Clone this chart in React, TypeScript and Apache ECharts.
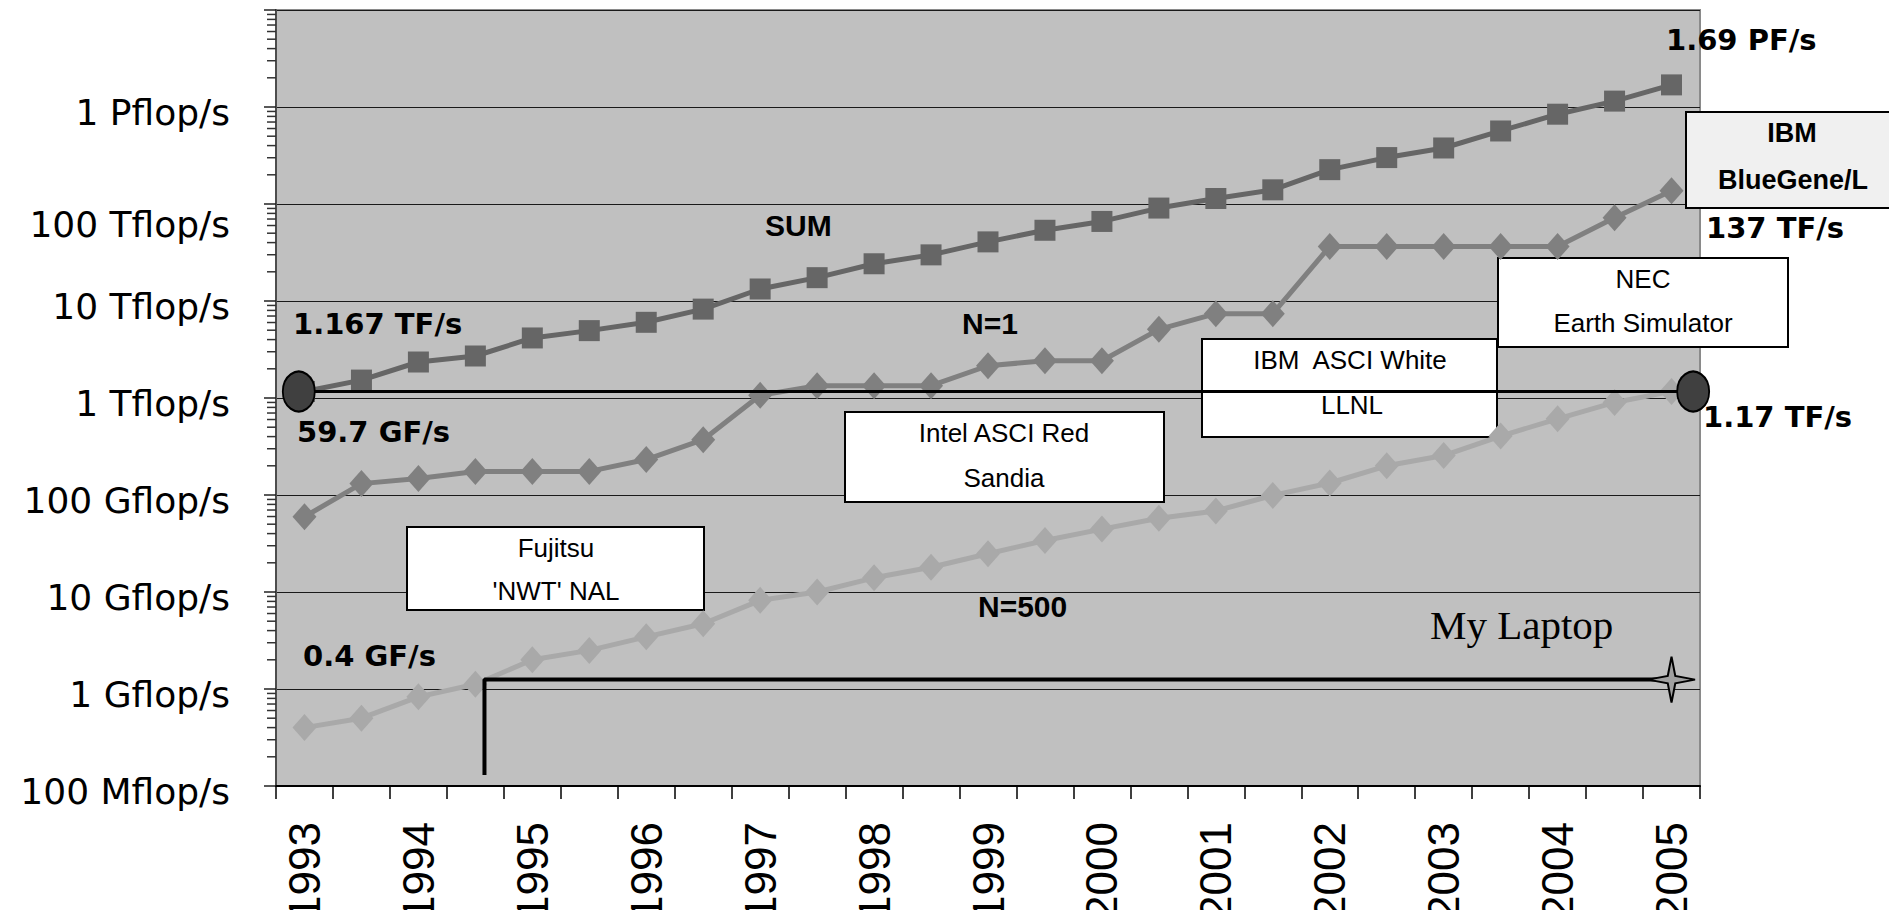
import React, { useEffect, useRef } from 'react';
import * as echarts from 'echarts';

// Categories: the two TOP500 lists per year (June, November), 1993-06 .. 2005-06
const categories = [
  '1993-06', '1993-11', '1994-06', '1994-11', '1995-06', '1995-11', '1996-06', '1996-11',
  '1997-06', '1997-11', '1998-06', '1998-11', '1999-06', '1999-11', '2000-06', '2000-11',
  '2001-06', '2001-11', '2002-06', '2002-11', '2003-06', '2003-11', '2004-06', '2004-11',
  '2005-06',
];

// Values in Gflop/s
const sumValues = [
  1167, 1530, 2350, 2710, 4160, 4950, 6030, 8250, 13300, 17400, 24200, 29900, 40700, 53600,
  66100, 90800, 114000, 140000, 226000, 301000, 378000, 566000, 843000, 1150000, 1690000,
];
const n1Values = [
  59.7, 131, 148, 175, 175, 175, 232, 372, 1065, 1338, 1338, 1338, 2150, 2420, 2420, 5100,
  7400, 7400, 36500, 36500, 36500, 36500, 36500, 72000, 136800,
];
const n500Values = [
  0.4, 0.5, 0.83, 1.12, 2.0, 2.5, 3.45, 4.7, 8.2, 10, 14, 18, 24.8, 34, 44.5, 57.5, 68.5, 99,
  133, 200, 255, 405, 610, 900, 1170,
];

// y tick labels, indexed by log10(value in Gflop/s) + 1
const yTickLabels = [
  '100 Mflop/s', '1 Gflop/s', '10 Gflop/s', '100 Gflop/s', '1 Tflop/s', '10 Tflop/s',
  '100 Tflop/s', '1 Pflop/s', '',
];
const minorDecades = [0.1, 1, 10, 100, 1000, 10000, 100000, 1000000];
const minorSteps = [2, 3, 4, 5, 6, 7, 8, 9];

// Annotation lines on a continuous x scale (category index units)
const tfLine = [[-0.1, 1167], [24.38, 1167]];
const laptopPath = [[3.16, 0.13], [3.16, 1.25], [24, 1.25]];

const SANS = 'DejaVu Sans';
const LIB = '"Liberation Sans", Arial, sans-serif';

const STAR = 'path://M0,-10 L1.6,-1.6 L10,0 L1.6,1.6 L0,10 L-1.6,1.6 L-10,0 L-1.6,-1.6 Z';

function txt(text: string, x: number, y: number, font: string, align = 'left', extra: any = {}) {
  return {
    type: 'text',
    x,
    y,
    z: 100,
    silent: true,
    style: {
      text,
      font,
      fill: '#000',
      textAlign: align,
      align,
      textVerticalAlign: 'middle',
      verticalAlign: 'middle',
      ...extra,
    },
  };
}

function box(x: number, y: number, w: number, h: number, fill = '#ffffff') {
  return {
    type: 'rect',
    z: 1,
    silent: true,
    shape: { x, y, width: w, height: h },
    style: { fill, stroke: '#000', lineWidth: 2 },
  };
}

export default function App() {
  const ref = useRef<HTMLDivElement>(null);

  useEffect(() => {
    if (!ref.current) return;
    const chart = echarts.init(ref.current, null, { renderer: 'svg' });

    const minorTickValues: number[][] = [];
    minorDecades.forEach((d) => minorSteps.forEach((k) => minorTickValues.push([-0.5, d * k])));

    const boxFont = `26px ${LIB}`;
    const boldFont = `bold 29px ${SANS}`;
    const nameFont = `bold 30px ${LIB}`;

    chart.setOption({
      animation: false,
      grid: {
        left: 276,
        right: 189,
        top: 10,
        bottom: 124,
        containLabel: false,
        outerBoundsMode: 'none',
        show: true,
        backgroundColor: '#c0c0c0',
        borderColor: '#8a8a8a',
        borderWidth: 2,
      },
      xAxis: [
        {
          type: 'category',
          data: categories,
          boundaryGap: true,
          axisLine: { show: true, lineStyle: { color: '#000', width: 2 } },
          axisTick: { show: true, interval: 0, length: 13, lineStyle: { color: '#000', width: 1.5 } },
          axisLabel: {
            interval: 1,
            rotate: 90,
            margin: 36,
            fontSize: 44,
            fontFamily: 'Liberation Sans',
            color: '#000',
            formatter: (v: string) => v.slice(0, 4),
          },
          splitLine: { show: false },
        },
        { type: 'value', min: -0.5, max: 24.5, show: false },
      ],
      yAxis: {
        type: 'log',
        logBase: 10,
        min: 0.1,
        max: 1e7,
        axisLine: { show: true, onZero: false, lineStyle: { color: '#4d4d4d', width: 2 } },
        axisTick: { show: true, length: 12, lineStyle: { color: '#222', width: 1.5 } },
        splitLine: { show: true, lineStyle: { color: '#1a1a1a', width: 1 } },
        axisLabel: {
          margin: 46,
          color: '#000',
          formatter: (v: number) => {
            const i = Math.round(Math.log10(v)) + 1;
            const t = yTickLabels[i] || '';
            if (!t) return '';
            return i === 6 ? `{d|${t}}` : `{n|${t}}`;
          },
          rich: {
            n: { fontSize: 36, fontFamily: SANS, color: '#000', padding: [10, 0, 0, 0] },
            d: { fontSize: 36, fontFamily: SANS, color: '#000', padding: [40, 0, 0, 0] },
          },
        },
      },
      series: [
        {
          type: 'custom',
          name: 'minor ticks',
          xAxisIndex: 1,
          yAxisIndex: 0,
          clip: false,
          silent: true,
          z: 3,
          data: minorTickValues,
          renderItem: (params: any, api: any) => {
            const p = api.coord([api.value(0), api.value(1)]);
            return {
              type: 'line',
              shape: { x1: p[0] - 9, y1: p[1], x2: p[0], y2: p[1] },
              style: { stroke: '#333', lineWidth: 1.5 },
            };
          },
        },
        {
          type: 'line',
          name: 'SUM',
          data: sumValues,
          symbol: 'rect',
          symbolSize: 21,
          showAllSymbol: true,
          lineStyle: { color: '#666666', width: 5 },
          itemStyle: { color: '#666666' },
        },
        {
          type: 'line',
          name: 'N=1',
          data: n1Values,
          symbol: 'diamond',
          symbolSize: [24, 27],
          showAllSymbol: true,
          lineStyle: { color: '#808080', width: 5 },
          itemStyle: { color: '#808080' },
        },
        {
          type: 'line',
          name: 'N=500',
          data: n500Values,
          symbol: 'diamond',
          symbolSize: [24, 27],
          showAllSymbol: true,
          lineStyle: { color: '#a9a9a9', width: 5 },
          itemStyle: { color: '#a9a9a9' },
        },
        {
          type: 'line',
          name: '1 TF line',
          xAxisIndex: 1,
          data: tfLine,
          symbol: 'circle',
          symbolSize: [32, 40],
          z: 6,
          lineStyle: { color: '#000', width: 3 },
          itemStyle: { color: '#404040', borderColor: '#000', borderWidth: 2 },
        },
        {
          type: 'line',
          name: 'My Laptop',
          xAxisIndex: 1,
          data: laptopPath.map((p, i) =>
            i === laptopPath.length - 1 ? { value: p } : { value: p, symbol: 'none' }
          ),
          symbol: STAR,
          symbolSize: [47, 46],
          z: 6,
          lineStyle: { color: '#000', width: 4 },
          itemStyle: { color: '#a0a0a0', borderColor: '#000', borderWidth: 2 },
        },
      ],
      graphic: [
        box(407, 527, 297, 83),
        txt('Fujitsu', 556, 548, boxFont, 'center'),
        txt("'NWT' NAL", 556, 591, boxFont, 'center'),
        box(845, 412, 319, 90),
        txt('Intel ASCI Red', 1004, 433, boxFont, 'center'),
        txt('Sandia', 1004, 478, boxFont, 'center'),
        box(1202, 339, 295, 98),
        txt('IBM  ASCI White', 1350, 360, boxFont, 'center'),
        txt('LLNL', 1352, 405, boxFont, 'center'),
        box(1498, 258, 290, 89),
        txt('NEC', 1643, 279, boxFont, 'center'),
        txt('Earth Simulator', 1643, 323, boxFont, 'center'),
        box(1686, 112, 215, 96, '#f0f0f0'),
        txt('IBM', 1792, 133, `bold 27px ${LIB}`, 'center'),
        txt('BlueGene/L', 1793, 180, `bold 27px ${LIB}`, 'center'),
        txt('1.69 PF/s', 1666, 40, boldFont),
        txt('137 TF/s', 1706, 228, boldFont),
        txt('1.17 TF/s', 1703, 417, boldFont),
        txt('1.167 TF/s', 293, 324, boldFont),
        txt('59.7 GF/s', 297, 432, boldFont),
        txt('0.4 GF/s', 303, 656, boldFont),
        txt('SUM', 765, 225, nameFont),
        txt('N=1', 962, 323, nameFont),
        txt('N=500', 978, 606, nameFont),
        txt('My Laptop', 1430, 625, '41px "Liberation Serif"'),
      ],
    });

    return () => chart.dispose();
  }, []);

  return (
    <div
      ref={ref}
      style={{ position: 'absolute', left: 0, top: 0, width: 1889, height: 910, background: '#fff' }}
    />
  );
}
